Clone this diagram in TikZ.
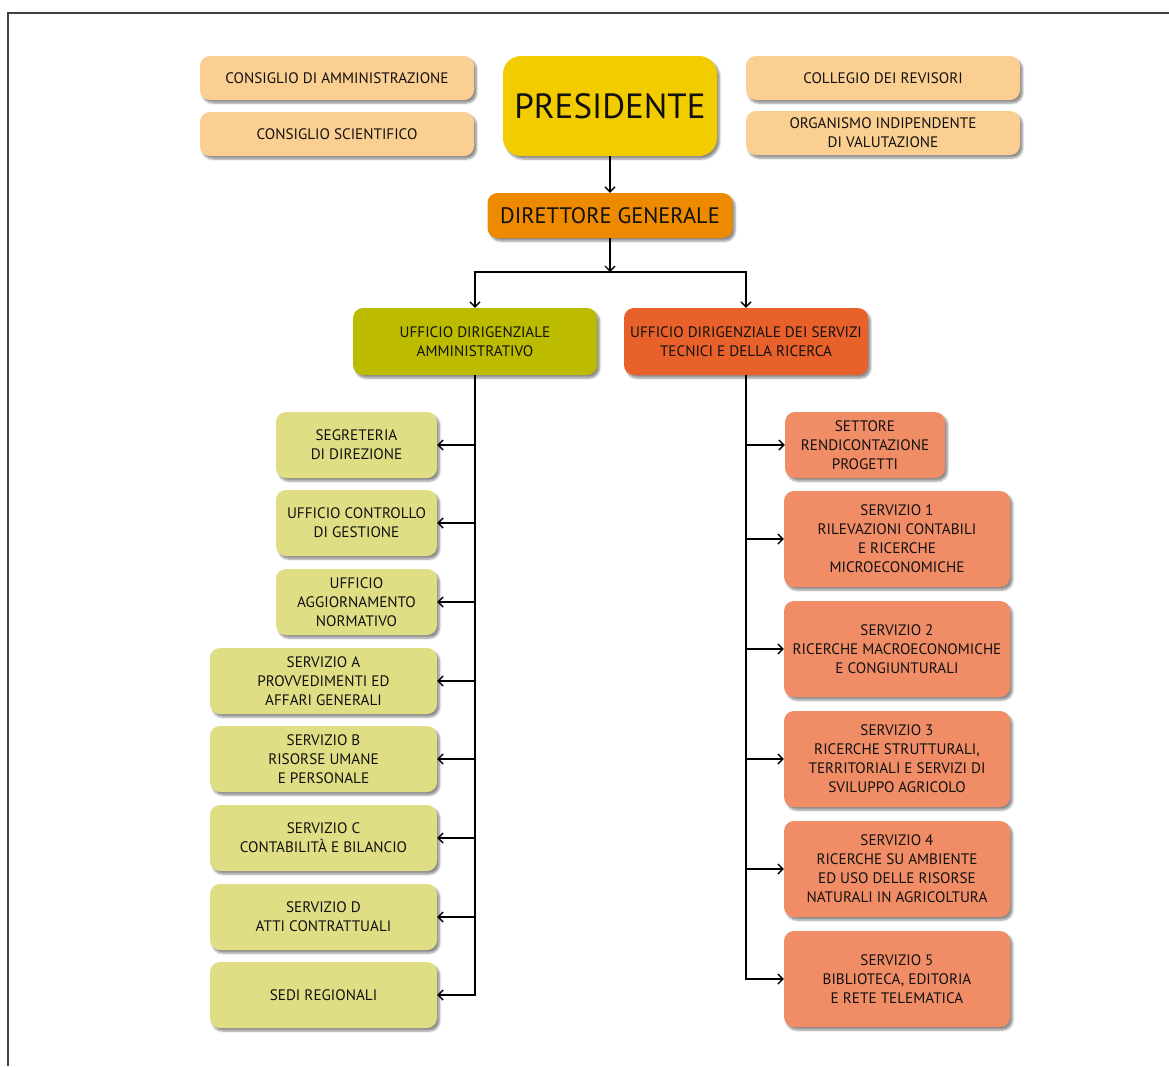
\documentclass[tikz,border=0pt]{standalone}
\usepackage{fontspec}
\setmainfont{PT Sans}
\usetikzlibrary{arrows.meta,shadows.blur}
\definecolor{peach}{HTML}{FBCF92}
\definecolor{presyellow}{HTML}{F3CC00}
\definecolor{dgorange}{HTML}{EE8A00}
\definecolor{olive}{HTML}{BDBB00}
\definecolor{redorange}{HTML}{E8602A}
\definecolor{paleolive}{HTML}{E0DE85}
\definecolor{salmon}{HTML}{F08D67}
\definecolor{ink}{HTML}{111111}
\tikzset{
  box/.style={rounded corners=10pt, align=center, inner sep=0pt, text=ink,
    font=\fontsize{15.2}{19}\selectfont,
    blur shadow={shadow xshift=2.5pt, shadow yshift=-3pt, shadow blur steps=6, shadow opacity=45}},
  topbox/.style={box, fill=peach, minimum width=274pt, minimum height=44pt},
  leftnarrow/.style={box, fill=paleolive, minimum width=161pt, minimum height=66pt},
  leftwide/.style={box, fill=paleolive, minimum width=227pt, minimum height=66pt},
  rightbig/.style={box, fill=salmon, minimum width=226pt, minimum height=96pt},
  link/.style={line width=1.4pt, draw=black, -{Straight Barb[length=5pt,width=10pt,line width=1.4pt]}},
}
\begin{document}
\begin{tikzpicture}[x=1pt,y=-1pt]
\useasboundingbox (0,0) rectangle (1169,1066);
% frame
\draw[line width=1.6pt, draw=black!75] (8,1066) -- (8,13) -- (1169,13);

% governing bodies
\node[topbox] (cda) at (337,78) {CONSIGLIO DI AMMINISTRAZIONE};
\node[topbox] (cs) at (337,134) {CONSIGLIO SCIENTIFICO};
\node[box, fill=presyellow, rounded corners=18pt, minimum width=214pt, minimum height=100pt,
      font=\fontsize{35}{40}\selectfont] (pres) at (610,106) {PRESIDENTE};
\node[topbox] (cr) at (883,78) {COLLEGIO DEI REVISORI};
\node[topbox] (oiv) at (883,133) {ORGANISMO INDIPENDENTE\\DI VALUTAZIONE};

\node[box, fill=dgorange, minimum width=245pt, minimum height=45pt,
      font=\fontsize{22.4}{24}\selectfont] (dg) at (610,215.5) {DIRETTORE GENERALE};

% the two offices
\node[box, fill=olive, minimum width=244pt, minimum height=67pt] (uda) at (475,341.5)
  {UFFICIO DIRIGENZIALE\\AMMINISTRATIVO};
\node[box, fill=redorange, minimum width=244pt, minimum height=67pt] (uds) at (746,341.5)
  {UFFICIO DIRIGENZIALE DEI SERVIZI\\TECNICI E DELLA RICERCA};

% administrative units
\node[leftnarrow] (seg) at (356.5,445) {SEGRETERIA\\DI DIREZIONE};
\node[leftnarrow] (ucg) at (356.5,523) {UFFICIO CONTROLLO\\DI GESTIONE};
\node[leftnarrow] (uan) at (356.5,602) {UFFICIO\\AGGIORNAMENTO\\NORMATIVO};
\node[leftwide] (sa) at (323.5,681) {SERVIZIO A\\PROVVEDIMENTI ED\\AFFARI GENERALI};
\node[leftwide] (sb) at (323.5,759) {SERVIZIO B\\RISORSE UMANE\\E PERSONALE};
\node[leftwide] (sc) at (323.5,838) {SERVIZIO C\\CONTABILITÀ E BILANCIO};
\node[leftwide] (sd) at (323.5,917) {SERVIZIO D\\ATTI CONTRATTUALI};
\node[leftwide] (sr) at (323.5,995) {SEDI REGIONALI};

% technical and research units
\node[box, fill=salmon, minimum width=160pt, minimum height=66pt] (srp) at (865,445)
  {SETTORE\\RENDICONTAZIONE\\PROGETTI};
\node[rightbig] (s1) at (897,539) {SERVIZIO 1\\RILEVAZIONI CONTABILI\\E RICERCHE\\MICROECONOMICHE};
\node[rightbig] (s2) at (897,649) {SERVIZIO 2\\RICERCHE MACROECONOMICHE\\E CONGIUNTURALI};
\node[rightbig] (s3) at (897,759) {SERVIZIO 3\\RICERCHE STRUTTURALI,\\TERRITORIALI E SERVIZI DI\\SVILUPPO AGRICOLO};
\node[rightbig] (s4) at (897,869) {SERVIZIO 4\\RICERCHE SU AMBIENTE\\ED USO DELLE RISORSE\\NATURALI IN AGRICOLTURA};
\node[rightbig] (s5) at (897,979) {SERVIZIO 5\\BIBLIOTECA, EDITORIA\\E RETE TELEMATICA};

% connectors
\coordinate (fork) at (610,272);
\draw[link] (pres.south) -- (dg.north);
\draw[link] (dg.south) -- (fork);
\draw[link] (fork) -| (uda.north);
\draw[link] (fork) -| (uds.north);

\foreach \n in {seg,ucg,uan,sa,sb,sc,sd,sr}
  \draw[link] (uda.south) |- (\n.east);
\foreach \n in {srp,s1,s2,s3,s4,s5}
  \draw[link] (uds.south) |- (\n.west);
\end{tikzpicture}
\end{document}
